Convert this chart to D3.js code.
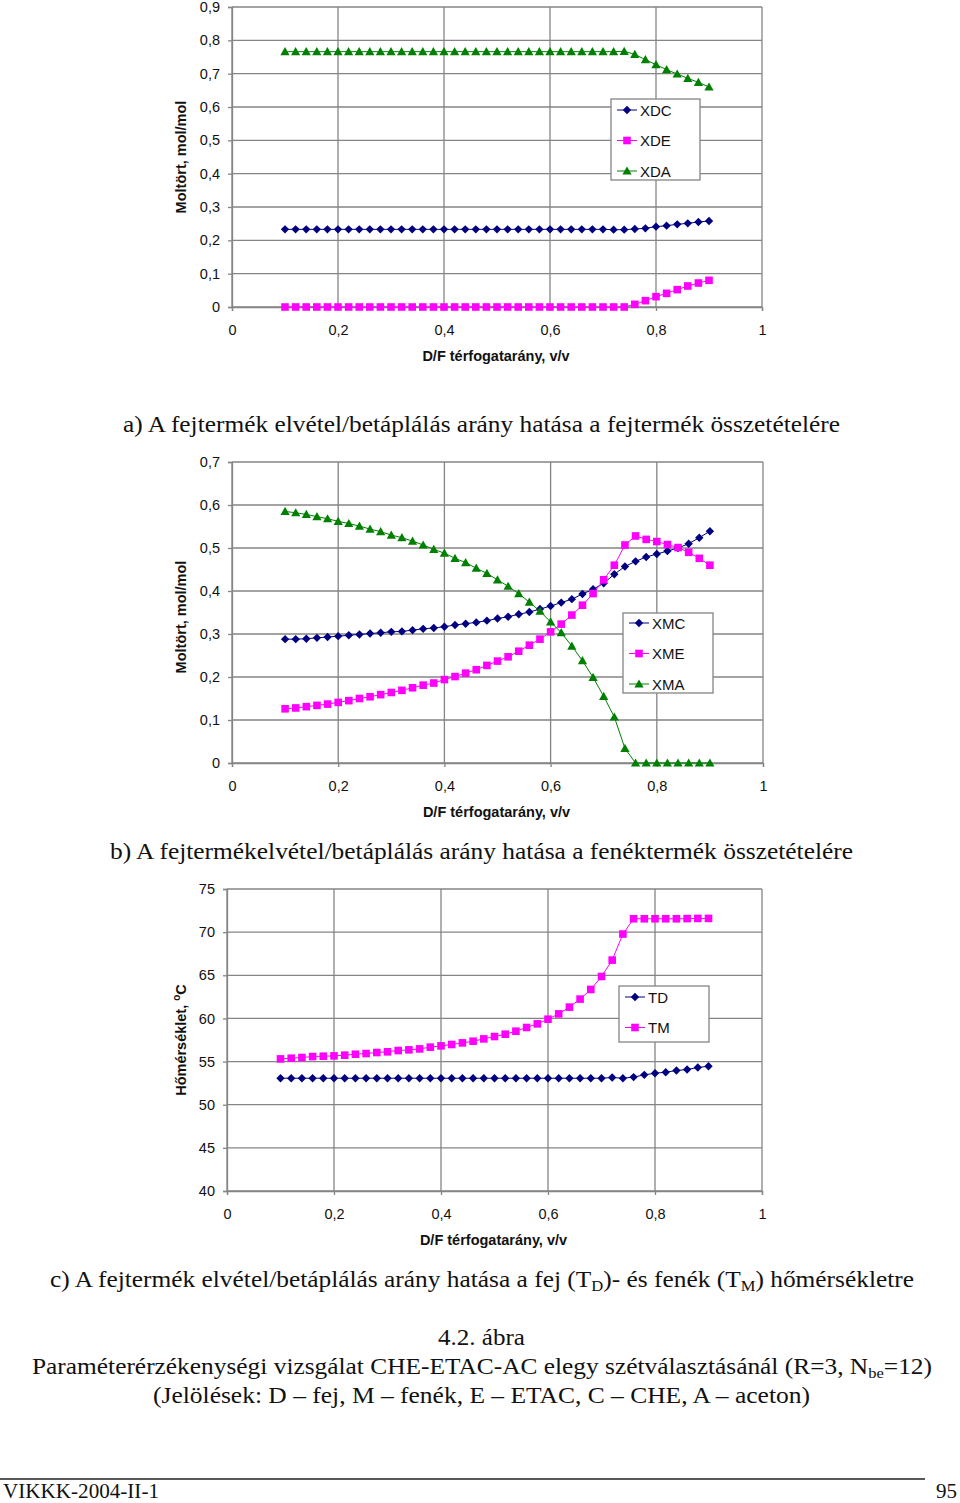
<!DOCTYPE html>
<html><head><meta charset="utf-8">
<script src="https://cdn.jsdelivr.net/npm/d3@7"></script>
<style>
html,body{margin:0;padding:0;background:#fff;}
svg{display:block;}
.tick text{font-family:"Liberation Sans",Arial,sans-serif;}
</style>
</head><body>
<svg id="c" width="960" height="1503"></svg>
<script>
// ---------- data ----------
const dfRatio = [0.10,0.12,0.14,0.16,0.18,0.20,0.22,0.24,0.26,0.28,0.30,0.32,0.34,0.36,0.38,0.40,0.42,0.44,0.46,0.48,0.50,0.52,0.54,0.56,0.58,0.60,0.62,0.64,0.66,0.68,0.70,0.72,0.74,0.76,0.78,0.80,0.82,0.84,0.86,0.88,0.90];

// chart a: distillate composition
const XDC = [0.233,0.233,0.233,0.233,0.233,0.233,0.233,0.233,0.233,0.233,0.233,0.233,0.233,0.233,0.233,0.233,0.233,0.233,0.233,0.233,0.233,0.233,0.233,0.233,0.233,0.233,0.233,0.233,0.233,0.233,0.233,0.232,0.232,0.234,0.236,0.241,0.244,0.248,0.251,0.255,0.258];
const XDE = [0,0,0,0,0,0,0,0,0,0,0,0,0,0,0,0,0,0,0,0,0,0,0,0,0,0,0,0,0,0,0,0,0,0.008,0.019,0.031,0.041,0.052,0.063,0.072,0.080];
const XDA = [0.766,0.766,0.766,0.766,0.766,0.766,0.766,0.766,0.766,0.766,0.766,0.766,0.766,0.766,0.766,0.766,0.766,0.766,0.766,0.766,0.766,0.766,0.766,0.766,0.766,0.766,0.766,0.766,0.766,0.766,0.766,0.766,0.767,0.758,0.742,0.727,0.712,0.699,0.686,0.674,0.660];

// chart b: bottoms composition
const XMC = [0.288,0.288,0.289,0.291,0.293,0.295,0.297,0.299,0.301,0.303,0.305,0.306,0.309,0.312,0.314,0.317,0.321,0.324,0.327,0.331,0.336,0.340,0.346,0.351,0.358,0.365,0.373,0.381,0.393,0.404,0.418,0.439,0.457,0.469,0.479,0.486,0.493,0.500,0.510,0.524,0.539];
const XME = [0.126,0.128,0.131,0.134,0.137,0.141,0.145,0.150,0.154,0.159,0.164,0.169,0.175,0.181,0.186,0.194,0.201,0.209,0.217,0.227,0.237,0.247,0.260,0.274,0.288,0.305,0.323,0.344,0.367,0.394,0.426,0.460,0.507,0.528,0.520,0.515,0.508,0.501,0.490,0.476,0.460];
const XMA = [0.585,0.582,0.578,0.573,0.568,0.562,0.557,0.551,0.544,0.538,0.530,0.524,0.516,0.507,0.497,0.488,0.476,0.466,0.453,0.441,0.426,0.411,0.394,0.374,0.353,0.328,0.303,0.272,0.238,0.199,0.155,0.107,0.034,0,0,0,0,0,0,0,0];

// chart c: temperatures
const TD = [53.07,53.07,53.07,53.07,53.07,53.07,53.07,53.07,53.07,53.07,53.07,53.07,53.07,53.07,53.07,53.07,53.07,53.07,53.07,53.07,53.07,53.07,53.07,53.07,53.07,53.07,53.07,53.07,53.07,53.07,53.07,53.15,53.07,53.2,53.46,53.65,53.77,53.96,54.08,54.31,54.46];
const TM = [55.31,55.39,55.47,55.58,55.62,55.66,55.74,55.85,55.93,56.05,56.13,56.28,56.36,56.47,56.67,56.82,56.98,57.17,57.36,57.63,57.90,58.17,58.52,58.95,59.37,59.91,60.53,61.31,62.24,63.36,64.86,66.76,69.78,71.55,71.55,71.55,71.55,71.55,71.57,71.59,71.59];

const xTicks = [0,0.2,0.4,0.6,0.8,1];
const yTicksA = [0,0.1,0.2,0.3,0.4,0.5,0.6,0.7,0.8,0.9];
const yTicksB = [0,0.1,0.2,0.3,0.4,0.5,0.6,0.7];
const yTicksC = [40,45,50,55,60,65,70,75];

const xTitle = "D/F térfogatarány, v/v";
const yTitleMol = "Moltört, mol/mol";

const captionA = "a) A fejtermék elvétel/betáplálás arány hatása a fejtermék összetételére";
const captionB = "b) A fejtermékelvétel/betáplálás arány hatása a fenéktermék összetételére";
const figNumber = "4.2. ábra";
const figTitle = "Paraméterérzékenységi vizsgálat CHE-ETAC-AC elegy szétválasztásánál (R=3, N";
const figNotes = "(Jelölések: D – fej, M – fenék, E – ETAC, C – CHE, A – aceton)";
const footerLeft = "VIKKK-2004-II-1";
const footerRight = "95";

// ---------- drawing ----------
const svg = d3.select("#c");
const SANS = "'Liberation Sans', Arial, sans-serif";
const SERIF = "'Liberation Serif', 'Times New Roman', serif";
const GRID = "#858585";

const markers = {
  diamond: "M0,-4.2L4.2,0L0,4.2L-4.2,0Z",
  square: "M-3.8,-3.8H3.8V3.8H-3.8Z",
  triangle: "M0,-4.6L4.6,3.6L-4.6,3.6Z"
};
const NAVY = "#000080", MAG = "#ff00ff", GREEN = "#008000";

function fmt(v){ return String(v).replace(".", ","); }

function chart(cfg){
  const g = svg.append("g");
  const x = d3.scaleLinear().domain([0,1]).range([cfg.left, cfg.right]);
  const y = d3.scaleLinear().domain(cfg.yDomain).range([cfg.bottom, cfg.top]);

  // grid
  g.append("g").selectAll("line.h").data(cfg.yTicks).join("line")
    .attr("x1", cfg.left).attr("x2", cfg.right)
    .attr("y1", d=>y(d)).attr("y2", d=>y(d))
    .attr("stroke", GRID).attr("stroke-width", 1.3);
  g.append("g").selectAll("line.v").data(xTicks).join("line")
    .attr("x1", d=>x(d)).attr("x2", d=>x(d))
    .attr("y1", cfg.top).attr("y2", cfg.bottom)
    .attr("stroke", GRID).attr("stroke-width", 1.3);

  // axes
  const xa = g.append("g").attr("transform", `translate(0,${cfg.bottom})`)
    .call(d3.axisBottom(x).tickValues(xTicks).tickFormat(fmt).tickSize(4).tickPadding(8));
  const ya = g.append("g").attr("transform", `translate(${cfg.left},0)`)
    .call(d3.axisLeft(y).tickValues(cfg.yTicks).tickFormat(fmt).tickSize(4).tickPadding(8));
  [xa, ya].forEach(a=>{
    a.select(".domain").attr("stroke", GRID).attr("stroke-width", 1.3);
    a.selectAll(".tick line").attr("stroke", GRID).attr("stroke-width", 1.3);
    a.selectAll(".tick text").attr("font-size", 14.5).attr("fill", "#111").attr("font-family", SANS);
  });
  xa.selectAll(".tick text").attr("dy", "1.1em");

  // titles
  g.append("text").attr("x", (cfg.left+cfg.right)/2 - 1).attr("y", cfg.bottom + 54)
    .attr("text-anchor","middle").attr("font-family", SANS).attr("font-weight","bold")
    .attr("font-size", 14.5).attr("fill","#111").text(xTitle);
  const yt = g.append("text")
    .attr("transform", `translate(${cfg.yTitleX},${cfg.yTitleY}) rotate(-90)`)
    .attr("text-anchor","middle").attr("font-family", SANS).attr("font-weight","bold")
    .attr("font-size", 14.5).attr("fill","#111");
  cfg.yTitle(yt);

  // series
  cfg.series.forEach(s=>{
    const pts = dfRatio.map((d,i)=>[d, s.values[i]]);
    g.append("path").datum(pts)
      .attr("fill","none").attr("stroke", s.color).attr("stroke-width", 1)
      .attr("d", d3.line().x(d=>x(d[0])).y(d=>y(d[1])));
    g.append("g").selectAll("path").data(pts).join("path")
      .attr("d", markers[s.marker]).attr("fill", s.color)
      .attr("transform", d=>`translate(${x(d[0])},${y(d[1])})`);
  });

  // legend
  const L = cfg.legend;
  const lg = g.append("g");
  lg.append("rect").attr("x", L.x).attr("y", L.y).attr("width", L.w).attr("height", L.h)
    .attr("fill","#fff").attr("stroke", GRID).attr("stroke-width", 1.3);
  cfg.series.forEach((s,i)=>{
    const cy = L.y + L.first + i*L.step;
    lg.append("line").attr("x1", L.x+6).attr("x2", L.x+26).attr("y1", cy).attr("y2", cy)
      .attr("stroke", s.color).attr("stroke-width", 1);
    lg.append("path").attr("d", markers[s.marker]).attr("fill", s.color)
      .attr("transform", `translate(${L.x+16},${cy})`);
    lg.append("text").attr("x", L.x+29).attr("y", cy+5.5)
      .attr("font-family", SANS).attr("font-size", 15).attr("fill","#111").text(s.name);
  });
}

chart({
  left:232, right:762, top:7, bottom:307, yDomain:[0,0.9], yTicks:yTicksA,
  yTitleX:186, yTitleY:157, yTitle: t=>t.text(yTitleMol),
  series:[
    {name:"XDC", values:XDC, color:NAVY, marker:"diamond"},
    {name:"XDE", values:XDE, color:MAG, marker:"square"},
    {name:"XDA", values:XDA, color:GREEN, marker:"triangle"}
  ],
  legend:{x:611, y:99, w:89, h:81, first:11, step:30.5}
});

chart({
  left:232, right:763, top:462, bottom:763, yDomain:[0,0.7], yTicks:yTicksB,
  yTitleX:186, yTitleY:617, yTitle: t=>t.text(yTitleMol),
  series:[
    {name:"XMC", values:XMC, color:NAVY, marker:"diamond"},
    {name:"XME", values:XME, color:MAG, marker:"square"},
    {name:"XMA", values:XMA, color:GREEN, marker:"triangle"}
  ],
  legend:{x:623, y:613, w:90, h:80, first:10, step:30.5}
});

chart({
  left:227, right:762, top:889, bottom:1191, yDomain:[40,75], yTicks:yTicksC,
  yTitleX:186, yTitleY:1040, yTitle: t=>{
    t.append("tspan").text("Hőmérséklet,    ");
    t.append("tspan").attr("font-size", 10).attr("dy", -6).text("o");
    t.append("tspan").attr("dy", 6).text("C");
  },
  series:[
    {name:"TD", values:TD, color:NAVY, marker:"diamond"},
    {name:"TM", values:TM, color:MAG, marker:"square"}
  ],
  legend:{x:619, y:986, w:90, h:56, first:11, step:30.5}
});

// captions
function cap(y, width, build){
  const t = svg.append("text").attr("x", 480).attr("y", y).attr("text-anchor","middle")
    .attr("font-family", SERIF).attr("font-size", 23).attr("fill","#111");
  build(t);
  if (width) t.attr("textLength", width).attr("lengthAdjust","spacingAndGlyphs");
  return t;
}
cap(432, 717, t=>t.attr("x", 481.5).text(captionA));
cap(859, 743, t=>t.attr("x", 481.5).text(captionB));
cap(1287, 864, t=>{
  t.attr("x", 482);
  t.append("tspan").text("c) A fejtermék elvétel/betáplálás arány hatása a fej (T");
  t.append("tspan").attr("font-size", 15).attr("dy", 4).text("D");
  t.append("tspan").attr("dy", -4).text(")- és fenék (T");
  t.append("tspan").attr("font-size", 15).attr("dy", 4).text("M");
  t.append("tspan").attr("dy", -4).text(") hőmérsékletre");
});
cap(1345, 87, t=>t.attr("x", 481.5).text(figNumber));
cap(1374, 900, t=>{
  t.attr("x", 482);
  t.append("tspan").text(figTitle);
  t.append("tspan").attr("font-size", 15).attr("dy", 4).text("be");
  t.append("tspan").attr("dy", -4).text("=12)");
});
cap(1403, 657, t=>t.attr("x", 481.5).text(figNotes));

// footer
svg.append("line").attr("x1", 0).attr("x2", 925).attr("y1", 1479).attr("y2", 1479)
  .attr("stroke", "#222").attr("stroke-width", 1.5);
svg.append("text").attr("x", 3).attr("y", 1498).attr("font-family", SERIF).attr("font-size", 21)
  .attr("fill","#111").attr("textLength", 156).attr("lengthAdjust","spacingAndGlyphs").text(footerLeft);
svg.append("text").attr("x", 957).attr("y", 1498).attr("text-anchor","end").attr("font-family", SERIF)
  .attr("font-size", 21).attr("fill","#111").text(footerRight);
</script>
</body></html>
